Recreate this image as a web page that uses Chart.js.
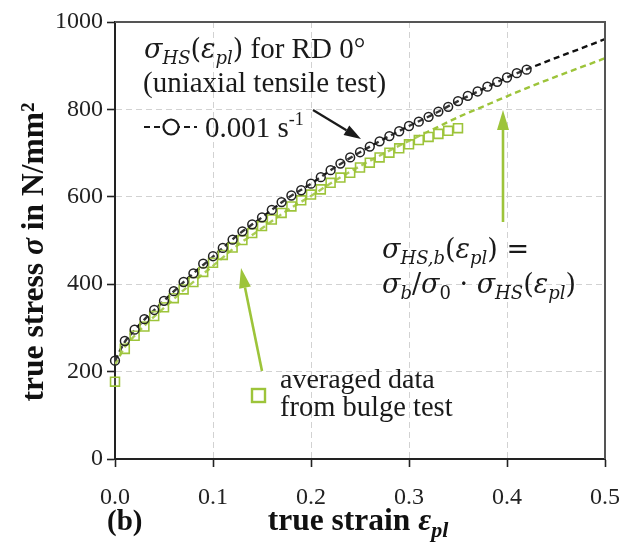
<!DOCTYPE html>
<html>
<head>
<meta charset="utf-8">
<script src="https://cdn.jsdelivr.net/npm/chart.js@4/dist/chart.umd.min.js"></script>
<style>
  html, body { margin: 0; padding: 0; background: #fff; }
  #wrap { width: 623px; height: 544px; position: relative; }
  canvas { display: block; }
</style>
</head>
<body>
<div id="wrap"><canvas id="c" width="623" height="544"></canvas></div>
<script>
// Axis ticks
const strainTicks = [0, 0.1, 0.2, 0.3, 0.4, 0.5];
const stressTicks = [0, 200, 400, 600, 800, 1000];

// Uniaxial tensile test, RD 0°, 0.001 1/s
const tensileStrain = [0, 0.01, 0.02, 0.03, 0.04, 0.05, 0.06, 0.07, 0.08, 0.09,
  0.10, 0.11, 0.12, 0.13, 0.14, 0.15, 0.16, 0.17, 0.18, 0.19,
  0.20, 0.21, 0.22, 0.23, 0.24, 0.25, 0.26, 0.27, 0.28, 0.29,
  0.30, 0.31, 0.32, 0.33, 0.34, 0.35, 0.36, 0.37, 0.38, 0.39,
  0.40, 0.41, 0.42];
const tensileStress = [225, 270, 296, 320, 341, 362, 384, 405, 425, 447,
  464, 483, 502, 521, 537, 553, 570, 588, 603, 615,
  630, 645, 661, 676, 690, 702, 715, 727, 739, 750,
  762, 772, 783, 795, 806, 819, 831, 841, 852, 863,
  873, 883, 891];

// Averaged data from bulge test
const bulgeStrain = [0, 0.01, 0.02, 0.03, 0.04, 0.05, 0.06, 0.07, 0.08, 0.09,
  0.10, 0.11, 0.12, 0.13, 0.14, 0.15, 0.16, 0.17, 0.18, 0.19,
  0.20, 0.21, 0.22, 0.23, 0.24, 0.25, 0.26, 0.27, 0.28, 0.29,
  0.30, 0.31, 0.32, 0.33, 0.34, 0.35];
const bulgeStress = [177, 252, 282, 303, 327, 347, 368, 388, 405, 428,
  449, 467, 484, 501, 517, 533, 548, 563, 578, 592,
  605, 617, 632, 644, 655, 667, 678, 690, 701, 711,
  720, 730, 737, 744, 751, 757];

// Hockett-Sherby flow curves
const fitStrain = [0, 0.01, 0.02, 0.03, 0.05, 0.075, 0.1, 0.125, 0.15, 0.175,
  0.2, 0.225, 0.25, 0.275, 0.3, 0.325, 0.35, 0.375, 0.4, 0.425,
  0.45, 0.475, 0.5];
const fitStressHS = [225, 268, 295, 319, 362, 415, 463, 512, 553, 595,
  630, 668, 702, 733, 762, 789, 819, 846, 873, 896,
  918, 939, 961];
const fitStressHSb = [215, 256, 282, 305, 346, 396, 442, 489, 528, 568,
  602, 638, 670, 700, 728, 755, 782, 806, 830, 853,
  875, 896, 917];

const GREEN = '#9dc43a';
const INK = '#1a1a1a';
const SERIF = '"Liberation Serif", "Times New Roman", serif';
const MATH = '"DejaVu Serif", serif';

const pts = (xs, ys) => xs.map((x, i) => ({ x: x, y: ys[i] }));

// Draw a sequence of differently styled text runs on one baseline
function drawRuns(ctx, x, y, parts, color) {
  ctx.save();
  ctx.fillStyle = color || INK;
  ctx.textAlign = 'left';
  ctx.textBaseline = 'alphabetic';
  let cx = x;
  for (const p of parts) {
    ctx.font = p.f;
    ctx.fillText(p.t, cx, y + (p.dy || 0));
    cx += ctx.measureText(p.t).width + (p.dx || 0);
  }
  ctx.restore();
  return cx - x;
}
function runsWidth(ctx, parts) {
  ctx.save();
  let w = 0;
  for (const p of parts) { ctx.font = p.f; w += ctx.measureText(p.t).width + (p.dx || 0); }
  ctx.restore();
  return w;
}
function arrow(ctx, x1, y1, x2, y2, color, lw, hl, hw) {
  const a = Math.atan2(y2 - y1, x2 - x1);
  const bx = x2 - hl * Math.cos(a), by = y2 - hl * Math.sin(a);
  ctx.save();
  ctx.strokeStyle = color; ctx.fillStyle = color; ctx.lineWidth = lw;
  ctx.beginPath(); ctx.moveTo(x1, y1); ctx.lineTo(bx, by); ctx.stroke();
  ctx.beginPath();
  ctx.moveTo(x2, y2);
  ctx.lineTo(bx + hw / 2 * Math.sin(a), by - hw / 2 * Math.cos(a));
  ctx.lineTo(bx - hw / 2 * Math.sin(a), by + hw / 2 * Math.cos(a));
  ctx.closePath(); ctx.fill();
  ctx.restore();
}

const R = (s) => s + 'px ' + SERIF;
const B = (s) => 'bold ' + s + 'px ' + SERIF;
const BI = (s) => 'italic bold ' + s + 'px ' + SERIF;
const MI = (s) => 'italic ' + s + 'px ' + MATH;
const MR = (s) => s + 'px ' + MATH;

const SYM = 27, SUB = 18, SUBDY = 6;
const flowArg = [
  { t: '(', f: MR(SYM) },
  { t: 'ε', f: MI(SYM) },
  { t: 'pl', f: MI(SUB), dy: SUBDY },
  { t: ')', f: MR(SYM) }
];

const decorations = {
  id: 'decorations',
  afterDraw(chart) {
    const ctx = chart.ctx;
    const a = chart.chartArea;

    // frame: top and right edges
    ctx.save();
    ctx.strokeStyle = '#555';
    ctx.lineWidth = 2;
    ctx.beginPath();
    ctx.moveTo(a.left, a.top); ctx.lineTo(a.right, a.top); ctx.lineTo(a.right, a.bottom);
    ctx.stroke();
    ctx.restore();

    // axis titles
    const yTitle = [
      { t: 'true stress ', f: B(31.5) },
      { t: 'σ', f: BI(31.5) },
      { t: ' in N/mm²', f: B(31.5) }
    ];
    const wy = runsWidth(ctx, yTitle);
    ctx.save();
    ctx.translate(43, 252);
    ctx.rotate(-Math.PI / 2);
    drawRuns(ctx, -wy / 2, 0, yTitle, '#111');
    ctx.restore();

    const xTitle = [
      { t: 'true strain ', f: B(31.5) },
      { t: 'ε', f: BI(31.5) },
      { t: 'pl', f: BI(22), dy: 7 }
    ];
    const wx = runsWidth(ctx, xTitle);
    drawRuns(ctx, (a.left + a.right) / 2 - wx / 2 - 2, 530, xTitle, '#111');
    drawRuns(ctx, 107, 530, [{ t: '(b)', f: B(29) }], '#111');

    // label for the uniaxial flow curve
    drawRuns(ctx, 144, 58, [
      { t: 'σ', f: MI(SYM) },
      { t: 'HS', f: MI(SUB), dy: SUBDY }
    ].concat(flowArg, [{ t: ' for RD 0°', f: R(29) }]));
    drawRuns(ctx, 143, 92, [{ t: '(uniaxial tensile test)', f: R(29) }]);

    // legend entry: dashed line with open circle
    ctx.save();
    ctx.strokeStyle = INK; ctx.lineWidth = 2.2; ctx.setLineDash([6, 4]);
    ctx.beginPath(); ctx.moveTo(144, 127); ctx.lineTo(197, 127); ctx.stroke();
    ctx.setLineDash([]);
    ctx.fillStyle = '#fff';
    ctx.beginPath(); ctx.arc(171, 127, 7.5, 0, Math.PI * 2); ctx.fill(); ctx.stroke();
    ctx.restore();
    drawRuns(ctx, 205, 137, [
      { t: '0.001 s', f: R(29) },
      { t: '-1', f: R(18), dy: -12 }
    ]);
    arrow(ctx, 313, 110, 361, 139, INK, 2.2, 17, 11);

    // label for the scaled flow curve
    drawRuns(ctx, 382, 258, [
      { t: 'σ', f: MI(SYM) },
      { t: 'HS,b', f: MI(SUB), dy: SUBDY }
    ].concat(flowArg, [{ t: ' =', f: MR(SYM) }]));
    drawRuns(ctx, 382, 293, [
      { t: 'σ', f: MI(SYM) },
      { t: 'b', f: MI(SUB), dy: SUBDY },
      { t: '/', f: MR(SYM) },
      { t: 'σ', f: MI(SYM) },
      { t: '0', f: MR(SUB), dy: SUBDY },
      { t: ' · ', f: MR(SYM) },
      { t: 'σ', f: MI(SYM) },
      { t: 'HS', f: MI(SUB), dy: SUBDY }
    ].concat(flowArg));
    arrow(ctx, 503, 222, 503, 110, GREEN, 2.6, 20, 12);

    // label for the bulge test data
    ctx.save();
    ctx.strokeStyle = GREEN; ctx.lineWidth = 2.4;
    ctx.strokeRect(252, 389, 13, 13);
    ctx.restore();
    drawRuns(ctx, 280, 388, [{ t: 'averaged data', f: R(28) }]);
    drawRuns(ctx, 280, 416, [{ t: 'from bulge test', f: R(28.5) }]);
    arrow(ctx, 262, 371, 241, 268, GREEN, 2.6, 20, 12);
  }
};

const edgeless = (max) => (c) => (c.tick && (c.tick.value === 0 || c.tick.value === max)) ? 'rgba(0,0,0,0)' : '#d2d2d2';

new Chart(document.getElementById('c'), {
  type: 'scatter',
  data: {
    datasets: [
      {
        label: 'tensile',
        data: pts(tensileStrain, tensileStress),
        showLine: false,
        clip: false,
        pointStyle: 'circle',
        pointRadius: 4.4,
        pointBorderWidth: 1.5,
        pointBorderColor: '#222',
        pointBackgroundColor: 'rgba(255,255,255,0.15)'
      },
      {
        label: 'bulge',
        data: pts(bulgeStrain, bulgeStress),
        showLine: false,
        clip: false,
        pointStyle: 'rect',
        pointRadius: 6.3,
        pointBorderWidth: 1.6,
        pointBorderColor: GREEN,
        pointBackgroundColor: 'rgba(255,255,255,0.15)'
      },
      {
        label: 'HS',
        data: pts(fitStrain, fitStressHS),
        showLine: true,
        borderColor: '#111',
        borderWidth: 2.4,
        borderDash: [6, 4],
        pointRadius: 0,
        cubicInterpolationMode: 'monotone'
      },
      {
        label: 'HSb',
        data: pts(fitStrain, fitStressHSb),
        showLine: true,
        borderColor: GREEN,
        borderWidth: 2.4,
        borderDash: [6, 4],
        pointRadius: 0,
        cubicInterpolationMode: 'monotone'
      }
    ]
  },
  options: {
    responsive: false,
    animation: false,
    devicePixelRatio: 1,
    layout: { padding: { left: 0, right: 18, top: 22, bottom: 0 } },
    plugins: { legend: { display: false }, tooltip: { enabled: false } },
    scales: {
      x: {
        type: 'linear',
        min: strainTicks[0],
        max: strainTicks[strainTicks.length - 1],
        afterBuildTicks: (s) => { s.ticks = strainTicks.map(v => ({ value: v })); },
        afterFit: (s) => { s.height = 85; s.paddingLeft = 0; s.paddingRight = 0; },
        ticks: {
          callback: (v) => Number(v).toFixed(1),
          font: { family: SERIF, size: 24 },
          color: '#222',
          padding: 16,
          maxRotation: 0,
          autoSkip: false
        },
        grid: {
          color: edgeless(0.5),
          lineWidth: 1,
          tickLength: 8,
          tickColor: '#222',
          tickWidth: 1.6
        },
        border: { color: '#222', width: 2, dash: [6, 4] }
      },
      y: {
        type: 'linear',
        min: stressTicks[0],
        max: stressTicks[stressTicks.length - 1],
        afterBuildTicks: (s) => { s.ticks = stressTicks.map(v => ({ value: v })); },
        afterFit: (s) => { s.width = 115; s.paddingTop = 0; s.paddingBottom = 0; },
        ticks: {
          callback: (v) => String(v),
          font: { family: SERIF, size: 24 },
          color: '#222',
          padding: 4
        },
        grid: {
          color: edgeless(1000),
          lineWidth: 1,
          tickLength: 8,
          tickColor: '#222',
          tickWidth: 1.6
        },
        border: { color: '#222', width: 2, dash: [6, 4] }
      }
    }
  },
  plugins: [decorations]
});
</script>
</body>
</html>
